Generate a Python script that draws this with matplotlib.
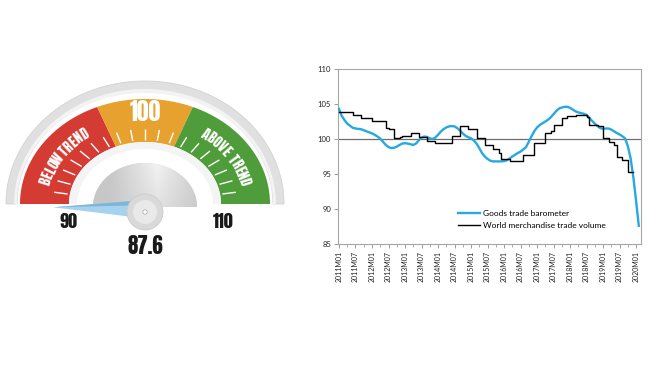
import numpy as np
import matplotlib
matplotlib.use("Agg")
import matplotlib.pyplot as plt
from matplotlib.patches import Polygon, Circle
from matplotlib.lines import Line2D

# ---------------- data ----------------
gauge_value = 87.6
gauge_min, gauge_max = 90, 110
gauge_mid = 100
zone_bounds = [90, 97.5, 102.5, 110]
zone_colors = ["#D43B33", "#E6A12E", "#4F9C3A"]
zone_texts = ["BELOW TREND", "", "ABOVE TREND"]

barometer = [104.3, 103.3, 102.7, 102.2, 101.9, 101.6, 101.5, 101.45, 101.4, 101.25,
             101.1, 100.95, 100.8, 100.6, 100.35, 100.05, 99.6, 99.15, 98.85, 98.7,
             98.75, 98.9, 99.15, 99.35, 99.4, 99.35, 99.25, 99.15, 99.35, 99.8,
             100.2, 100.35, 100.3, 100.1, 100.0, 100.2, 100.6, 101.05, 101.4, 101.65,
             101.8, 101.85, 101.8, 101.55, 101.2, 100.8, 100.45, 100.25, 100.1, 99.8,
             99.35, 98.7, 98.0, 97.5, 97.15, 96.9, 96.8, 96.8, 96.8, 96.8,
             96.85, 96.95, 97.2, 97.5, 97.75, 98.0, 98.2, 98.5, 98.85, 99.6,
             100.4, 101.1, 101.65, 102.0, 102.25, 102.5, 102.75, 103.1, 103.55, 104.0,
             104.35, 104.5, 104.6, 104.6, 104.45, 104.2, 103.95, 103.8, 103.7, 103.6,
             103.45, 103.0, 102.6, 102.2, 101.85, 101.55, 101.45, 101.5, 101.5, 101.35,
             101.1, 100.85, 100.65, 100.4, 100.1, 99.0, 97.3, 94.6, 91.2, 87.6]

trade_volume = [103.8, 103.8, 103.8, 103.8, 103.8, 103.5, 103.5, 103.5,
                103.05, 103.05, 103.05, 103.05, 102.6, 102.6, 102.6, 102.6, 102.6,
                101.6, 101.4, 101.4, 100.1, 100.2, 100.25, 100.4, 100.4, 100.4,
                100.9, 100.9, 100.9, 100.3, 100.3, 100.3, 99.7, 99.7, 99.7,
                99.5, 99.5, 99.5, 99.5, 99.5, 99.5, 100.4, 100.4, 100.4,
                101.8, 101.8, 101.8, 101.5, 101.5, 101.5, 100.1, 100.1, 100.1,
                99.2, 99.2, 99.2, 98.6, 98.6, 98.0, 97.1, 97.1, 97.1,
                96.8, 96.8, 96.8, 96.9, 96.9, 97.65, 97.65, 97.65, 97.65,
                99.4, 99.4, 99.5, 99.5, 100.9, 100.9, 101.2, 102.0, 102.0, 102.0,
                102.97, 102.97, 103.35, 103.35, 103.35, 103.4, 103.4, 103.4, 103.4,
                103.2, 102.0, 102.0, 102.0, 101.9, 101.9, 100.2, 100.2, 99.6, 99.6,
                99.2, 97.5, 97.5, 97.0, 97.0, 95.35, 95.35]

tick_every = 6
tick_labels = ["2011M01", "2011M07", "2012M01", "2012M07", "2013M01", "2013M07",
               "2014M01", "2014M07", "2015M01", "2015M07", "2016M01", "2016M07",
               "2017M01", "2017M07", "2018M01", "2018M07", "2019M01", "2019M07",
               "2020M01"]
y_ticks = [85, 90, 95, 100, 105, 110]
series_names = ["Goods trade barometer", "World merchandise trade volume"]

# ---------------- figure ----------------
fig = plt.figure(figsize=(6.58, 3.69), dpi=100)
fig.patch.set_facecolor("white")

gax = fig.add_axes([0, 0, 1, 1])
gax.set_xlim(0, 658)
gax.set_ylim(369, 0)
gax.axis("off")

CX, CY = 145.0, 204.0
GFONT = ["Anton", "Oswald", "DejaVu Sans"]


def val2ang(v):
    return 180.0 - (v - gauge_min) / (gauge_max - gauge_min) * 180.0


def arc(rx, ry, a0, a1, n=120):
    t = np.radians(np.linspace(a0, a1, n))
    return np.column_stack([CX + rx * np.cos(t), CY - ry * np.sin(t)])


def ring(rxo, ryo, rxi, ryi, a0, a1):
    return np.vstack([arc(rxo, ryo, a0, a1), arc(rxi, ryi, a1, a0)])


# outer rim
gax.add_patch(Polygon(ring(139, 123, 128, 112, 180, 0), closed=True,
                      facecolor="#e0e0e0", edgecolor="#d2d2d2", lw=0.6))
gax.add_patch(Polygon(ring(131, 115, 128, 111, 180, 0), closed=True,
                      facecolor="#f3f3f3", edgecolor="none"))

# coloured zones
BAND_RX, BAND_RY = 125.0, 105.0
IN_RX, IN_RY = 76.0, 62.0
for i, col in enumerate(zone_colors):
    a0 = val2ang(zone_bounds[i])
    a1 = val2ang(zone_bounds[i + 1])
    gax.add_patch(Polygon(ring(BAND_RX, BAND_RY, IN_RX, IN_RY, a0, a1),
                          closed=True, facecolor=col, edgecolor="none"))

# white tick marks (one per unit of the scale)
for v in range(gauge_min + 1, gauge_max):
    t = np.radians(val2ang(v))
    f0, f1 = 1.03, 1.21
    gax.plot([CX + IN_RX * f0 * np.cos(t), CX + IN_RX * f1 * np.cos(t)],
             [CY - IN_RY * f0 * np.sin(t), CY - IN_RY * f1 * np.sin(t)],
             color="white", lw=1.0, solid_capstyle="butt")

# inner light ring
gax.add_patch(Polygon(ring(IN_RX, IN_RY, 68, 55, 180, 0), closed=True,
                      facecolor="#f4f4f4", edgecolor="none"))


def arc_text(s, a_start, a_end, fr, size):
    weights = np.array([0.45 if c == " " else (0.55 if c == "I" else 1.0) for c in s])
    cum = np.cumsum(weights) - weights / 2
    pos = cum / weights.sum()
    rx, ry = BAND_RX * fr, BAND_RY * fr
    for c, p in zip(s, pos):
        a = a_start + (a_end - a_start) * p
        t = np.radians(a)
        x = CX + rx * np.cos(t)
        y = CY - ry * np.sin(t)
        rot = np.degrees(np.arctan2(-ry * np.cos(t), rx * np.sin(t)))
        gax.text(x, y, c, rotation=rot, rotation_mode="anchor", ha="center",
                 va="center", color="white", fontsize=size, family=GFONT)


arc_text(zone_texts[0], 167, 124, 0.82, 10)
arc_text(zone_texts[2], 56, 13, 0.82, 10)
gax.text(CX, 112, str(gauge_mid), ha="center", va="center", color="white",
         fontsize=17, family=GFONT)

# hub with gradient
hub_pts = arc(52, 44, 180, 0)
hub_pts[:, 1] += 3
hub = Polygon(hub_pts, closed=True, facecolor="#d6d6d6", edgecolor="none")
gax.add_patch(hub)
gx = np.linspace(0, 1, 200)
gy = np.linspace(0, 1, 100)
GX, GY = np.meshgrid(gx, gy)
grad = 0.78 + 0.17 * np.clip(1 - np.abs(GX - 0.62) * 2.2, 0, 1) * (1 - GY * 0.4)
im = gax.imshow(grad, cmap="gray", vmin=0, vmax=1, extent=(CX - 52, CX + 52, 207, 163),
                aspect="auto", zorder=2)
im.set_clip_path(hub)
gax.set_xlim(0, 658)
gax.set_ylim(369, 0)

# needle (pegged just past the low end of the scale)
needle_ang = val2ang(max(gauge_value, gauge_min - 0.27))
t_n = np.radians(needle_ang)
tip = (CX + 92 * np.cos(t_n), CY - 77 * np.sin(t_n))
gax.add_patch(Polygon([tip, (CX - 12, 201), (CX - 12, 217)], closed=True,
                      facecolor="#a5d2ee", edgecolor="none", zorder=3))
gax.add_patch(Polygon([tip, (CX - 12, 201), (CX - 12, 205.5)], closed=True,
                      facecolor="#7fb6d8", edgecolor="none", zorder=3))

# pivot
gax.add_patch(Circle((CX, 212), 18, facecolor="#d9d9d9", edgecolor="#cccccc",
                     lw=0.6, zorder=4))
gax.add_patch(Circle((CX, 212), 12, facecolor="#e9e9e9", edgecolor="none", zorder=4))
gax.add_patch(Circle((CX, 212), 2.2, facecolor="white", edgecolor="#b0b0b0",
                     lw=0.6, zorder=5))

# scale labels
gax.text(68, 222, str(gauge_min), ha="center", va="center", fontsize=13,
         family=GFONT, color="#1a1a1a")
gax.text(223, 222, str(gauge_max), ha="center", va="center", fontsize=13,
         family=GFONT, color="#1a1a1a")
gax.text(CX, 246, f"{gauge_value}", ha="center", va="center", fontsize=15,
         family=GFONT, color="#1a1a1a")

# ---------------- line chart ----------------
ax = fig.add_axes([338 / 658, (369 - 244) / 369, 303 / 658, 175 / 369])
ax.set_facecolor("none")
m_baro = np.arange(len(barometer))
m_vol = np.arange(len(trade_volume) + 1)
vol_ext = trade_volume + [trade_volume[-1]]

ax.axhline(100, color="#6e6e6e", lw=0.9, zorder=1)
ax.plot(m_baro, barometer, color="#25A9E0", lw=1.7, zorder=3,
        solid_joinstyle="round")
ax.plot(m_vol, vol_ext, color="black", lw=1.0, drawstyle="steps-post", zorder=4)

ax.set_xlim(-0.36, 109.8)
ax.set_ylim(85, 110)
ax.set_yticks(y_ticks)
ax.set_yticklabels([str(v) for v in y_ticks])
ax.set_xticks(np.arange(0, tick_every * len(tick_labels), tick_every))
ax.set_xticklabels(tick_labels, rotation=90)
ax.set_xticks(np.arange(0, 110, 3), minor=True)
for sp in ax.spines.values():
    sp.set_color("#a6a6a6")
    sp.set_linewidth(0.8)
ax.tick_params(axis="y", direction="out", length=3, width=0.6, color="#8c8c8c",
               labelsize=5.5, pad=2, labelcolor="#222222")
ax.tick_params(axis="x", which="major", direction="out", length=3, width=0.6,
               color="#8c8c8c", labelsize=5, pad=2, labelcolor="#222222")
ax.tick_params(axis="x", which="minor", direction="out", length=2, width=0.5,
               color="#8c8c8c")
for lab in ax.get_xticklabels() + ax.get_yticklabels():
    lab.set_family(["Lato", "DejaVu Sans"])

handles = [Line2D([], [], color="#25A9E0", lw=1.7), Line2D([], [], color="black", lw=1.0)]
leg = ax.legend(handles, series_names, loc="upper left",
                bbox_to_anchor=((458 - 338) / 303, (244 - 210) / 175),
                frameon=False, handlelength=2.6, handletextpad=0.45,
                labelspacing=0.55, borderpad=0, borderaxespad=0,
                prop={"family": ["Lato", "DejaVu Sans"], "size": 6})

fig.savefig("out.png", dpi=100, facecolor="white")
